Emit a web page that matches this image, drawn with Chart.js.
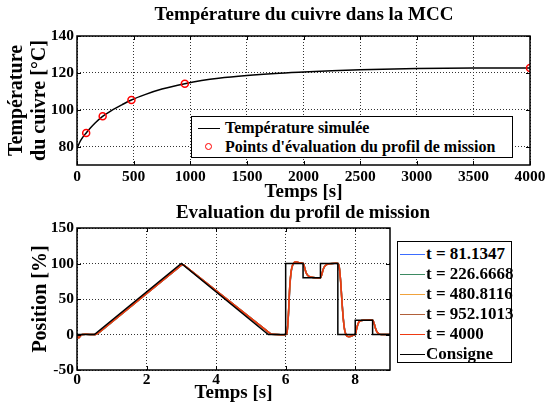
<!DOCTYPE html>
<html>
<head>
<meta charset="utf-8">
<script src="https://cdn.jsdelivr.net/npm/chart.js@4.4.1/dist/chart.umd.min.js"></script>
<style>
  body { margin: 0; background: #fff; width: 549px; height: 403px; position: relative; overflow: hidden;
         font-family: "Liberation Serif", "Times New Roman", serif; font-weight: bold; color: #000; }
  canvas { position: absolute; left: 0; }
  #tempChart { top: 0; }
  #posChart { top: 200px; }
  .legend { position: absolute; box-sizing: border-box; border: 1.5px solid #000; background: #fff; }
  .legend .row { position: absolute; left: 0; right: 0; height: 20px; white-space: nowrap; }
  .legend .sample { position: absolute; top: 50%; height: 0; border-top: 1.5px solid #000; }
  .legend .dot { position: absolute; top: 50%; width: 5px; height: 5px; margin-top: -4px; border: 1.5px solid #f00; border-radius: 50%; }
  .legend .txt { position: absolute; top: 50%; transform: translateY(-52%); line-height: 1; }
</style>
</head>
<body>
<canvas id="tempChart" width="549" height="212"></canvas>
<canvas id="posChart" width="549" height="210"></canvas>
<div class="legend" id="tempLegend" style="left:191px;top:116px;width:322px;height:42px;font-size:16px"></div>
<div class="legend" id="posLegend" style="left:397px;top:241px;width:115px;height:122px;font-size:17px"></div>

<script>
// ---- top chart data (copper temperature) ----
const tempTime = [0, 25, 50, 81, 120, 160, 226, 300, 400, 480, 600, 750, 952, 1100, 1250, 1500, 1750, 2000, 2250, 2500, 3000, 3500, 4000];
const tempSim  = [78.9, 82.5, 85.0, 87.4, 90.2, 92.8, 96.4, 99.4, 102.8, 105.3, 108.2, 111.2, 114.1, 115.8, 117.1, 118.6, 119.7, 120.5, 121.2, 121.7, 122.3, 122.6, 122.7];
const evalTime = [81.1347, 226.6668, 480.8116, 952.1013, 4000];
const evalTemp = [87.4, 96.4, 105.3, 114.1, 122.7];
const tempXTicks = [0, 500, 1000, 1500, 2000, 2500, 3000, 3500, 4000];
const tempYTicks = [80, 100, 120, 140];

// ---- bottom chart data (mission profile) ----
const consigneTime  = [0, 0.5, 3, 5.5, 6, 6, 6.5, 6.5, 7, 7, 7.5, 7.5, 8, 8, 8.5, 8.5, 9];
const consigneValue = [0, 0, 100, 0, 0, 100, 100, 80, 80, 100, 100, 0, 0, 20, 20, 0, 0];
const respTime = [0, 0.03, 0.06, 0.1, 0.15, 0.5, 0.55, 0.65, 3.0, 3.05, 3.1, 5.55, 5.6, 6.0, 6.04, 6.08, 6.12, 6.16, 6.2, 6.25, 6.3, 6.4, 6.5,
                  6.54, 6.58, 6.62, 6.68, 6.75, 6.85, 7.0, 7.04, 7.08, 7.12, 7.18, 7.25, 7.35, 7.5, 7.54, 7.58, 7.62, 7.66, 7.7, 7.75, 7.8,
                  7.88, 7.95, 8.0, 8.04, 8.08, 8.12, 8.18, 8.25, 8.5, 8.54, 8.58, 8.62, 8.68, 8.75, 9];
const resp81   = [0, -3.8, -4.3, -2, 0, 0, 0.3, 3.3, 97.4, 98.0, 96.7, 1.6, 0.2, 0, 2.6, 27, 67, 88, 97, 101.2, 102.1, 101, 100.2,
                  95.5, 88.5, 84.3, 81.7, 80.6, 80, 80, 84.5, 91.5, 95.6, 98.3, 99.5, 100, 100, 95.5, 76, 47, 22, 6, -1.2, -2.8,
                  -2.4, -0.8, 0, 7.5, 14.5, 18.2, 19.7, 20, 20, 16.3, 9.5, 4.3, 1.1, 0, 0];
const resp226  = [0, -3.9, -4.4, -2, 0, 0, 0.3, 3.4, 97.5, 98.1, 96.7, 1.6, 0.2, 0, 2.8, 28, 68, 89, 97.5, 101.3, 102.2, 101, 100.2,
                  95.3, 88.3, 84.2, 81.6, 80.6, 80, 80, 84.8, 91.7, 95.8, 98.4, 99.5, 100, 100, 95.3, 75.5, 46, 21, 5.5, -1.3, -2.9,
                  -2.4, -0.8, 0, 7.7, 14.7, 18.3, 19.8, 20, 20, 16.2, 9.3, 4.2, 1.0, 0, 0];
const resp480  = [0, -3.9, -4.4, -2, 0, 0, 0.3, 3.4, 97.5, 98.1, 96.8, 1.5, 0.2, 0, 2.9, 29, 69, 89.5, 97.8, 101.4, 102.2, 101, 100.2,
                  95.2, 88.2, 84.1, 81.6, 80.5, 80, 80, 84.9, 91.8, 95.9, 98.4, 99.6, 100, 100, 95.2, 75.2, 45.5, 20.5, 5.2, -1.4, -2.9,
                  -2.5, -0.8, 0, 7.8, 14.8, 18.4, 19.8, 20, 20, 16.1, 9.2, 4.1, 1.0, 0, 0];
const resp952  = [0, -4, -4.5, -2, 0, 0, 0.3, 3.5, 97.6, 98.2, 96.8, 1.5, 0.2, 0, 3, 29.5, 69.5, 90, 98, 101.5, 102.3, 101, 100.2,
                  95.1, 88.1, 84, 81.5, 80.5, 80, 80, 85, 91.9, 96, 98.5, 99.6, 100, 100, 95.1, 75.1, 45.2, 20.2, 5.1, -1.5, -3,
                  -2.5, -0.8, 0, 7.9, 14.9, 18.5, 19.8, 20, 20, 16, 9.1, 4, 1.0, 0, 0];
const resp4000 = [0, -4, -4.5, -2, 0, 0, 0.3, 3.5, 97.6, 98.2, 96.8, 1.5, 0.2, 0, 3, 30, 70, 90, 98, 101.5, 102.3, 101, 100.2,
                  95, 88, 84, 81.5, 80.5, 80, 80, 85, 92, 96, 98.5, 99.6, 100, 100, 95, 75, 45, 20, 5, -1.5, -3,
                  -2.5, -0.8, 0, 8, 15, 18.5, 19.8, 20, 20, 16, 9, 4, 1, 0, 0];
const posLabels = ['t = 81.1347', 't = 226.6668', 't = 480.8116', 't = 952.1013', 't = 4000', 'Consigne'];
const posColors = ['#3b6cff', '#3d8a62', '#f0a23c', '#b0603a', '#ee3a12', '#000000'];
const posXTicks = [0, 2, 4, 6, 8];
const posYTicks = [-50, 0, 50, 100, 150];

const serif = '"Liberation Serif", "Times New Roman", serif';
const tickFont = { family: serif, size: 15.5, weight: 'bold' };
const labelFont = { family: serif, size: 19, weight: 'bold' };

function zip(xs, ys) {
  return xs.map((x, i) => ({ x: x, y: ys[i] }));
}

// matlab style box round the axes, inward tick marks, and the title
const framePlugin = {
  id: 'frame',
  afterDatasetsDraw(chart, args, opts) {
    const { ctx, chartArea: a, scales } = chart;
    ctx.save();
    ctx.strokeStyle = '#000';
    ctx.lineWidth = 1;
    scales.x.ticks.forEach(t => {
      const px = Math.round(scales.x.getPixelForValue(t.value)) + 0.5;
      ctx.beginPath();
      ctx.moveTo(px, a.bottom); ctx.lineTo(px, a.bottom - 4);
      ctx.moveTo(px, a.top); ctx.lineTo(px, a.top + 4);
      ctx.stroke();
    });
    scales.y.ticks.forEach(t => {
      const py = Math.round(scales.y.getPixelForValue(t.value)) + 0.5;
      ctx.beginPath();
      ctx.moveTo(a.left, py); ctx.lineTo(a.left + 4, py);
      ctx.moveTo(a.right, py); ctx.lineTo(a.right - 4, py);
      ctx.stroke();
    });
    ctx.lineWidth = 1.5;
    ctx.strokeRect(a.left, a.top, a.right - a.left, a.bottom - a.top);

    ctx.fillStyle = '#000';
    ctx.font = 'bold 19px ' + serif;
    ctx.textAlign = 'center';
    ctx.textBaseline = 'middle';
    ctx.fillText(opts.text, opts.x, opts.y);
    ctx.restore();
  }
};

function axis(min, max, tickList, title, fit, tickPad) {
  return {
    type: 'linear', min: min, max: max,
    afterBuildTicks: s => { s.ticks = tickList.map(v => ({ value: v })); },
    afterFit: fit,
    grid: { color: '#333', lineWidth: 1, drawTicks: false },
    border: { display: false, dash: [1, 2] },
    ticks: { color: '#000', font: tickFont, padding: tickPad, maxRotation: 0, autoSkip: false, callback: v => String(v) },
    title: title
  };
}

// ---- top chart ----
new Chart(document.getElementById('tempChart'), {
  type: 'scatter',
  data: {
    datasets: [
      { label: "Points d'évaluation du profil de mission", data: zip(evalTime, evalTemp), showLine: false,
        pointRadius: 3.5, pointBorderWidth: 1.5, pointBorderColor: '#ff0000', pointBackgroundColor: 'rgba(0,0,0,0)', order: 0 },
      { label: 'Température simulée', data: zip(tempTime, tempSim), showLine: true, borderColor: '#000', borderWidth: 1.5,
        pointRadius: 0, cubicInterpolationMode: 'monotone', order: 1 }
    ]
  },
  options: {
    responsive: false, animation: false,
    layout: { padding: { left: 0, right: 19, top: 36, bottom: 0 } },
    plugins: {
      legend: { display: false }, tooltip: { enabled: false }, title: { display: false },
      frame: { text: 'Température du cuivre dans la MCC', x: 304, y: 15 }
    },
    scales: {
      x: axis(0, 4000, tempXTicks, { display: true, text: 'Temps [s]', color: '#000', font: labelFont, padding: { top: 0, bottom: 9 } },
              s => { s.height = 47; }, 3),
      y: axis(70, 140, tempYTicks, { display: true, text: ['Température', 'du cuivre [°C]'], color: '#000',
              font: { family: serif, size: 20, weight: 'bold', lineHeight: 1.15 }, padding: { top: 5, bottom: 0 } },
              s => { s.width = 77; }, 3)
    }
  },
  plugins: [framePlugin]
});

// ---- bottom chart ----
const respSeries = [resp81, resp226, resp480, resp952, resp4000];
const posDatasets = respSeries.map((r, i) => ({
  label: posLabels[i], data: zip(respTime, r), showLine: true, borderColor: posColors[i], borderWidth: 1.5,
  pointRadius: 0, tension: 0.3, order: 5 - i
}));
posDatasets.push({ label: posLabels[5], data: zip(consigneTime, consigneValue), showLine: true, borderColor: posColors[5],
  borderWidth: 1.5, pointRadius: 0, order: 0 });

new Chart(document.getElementById('posChart'), {
  type: 'scatter',
  data: { datasets: posDatasets },
  options: {
    responsive: false, animation: false,
    layout: { padding: { left: 0, right: 159, top: 28, bottom: 0 } },
    plugins: {
      legend: { display: false }, tooltip: { enabled: false }, title: { display: false },
      frame: { text: 'Evaluation du profil de mission', x: 303, y: 13 }
    },
    scales: {
      x: axis(0, 9, posXTicks, { display: true, text: 'Temps [s]', color: '#000', font: labelFont, padding: { top: 0, bottom: 6 } },
              s => { s.height = 40; }, 1),
      y: axis(-50, 150, posYTicks, { display: true, text: 'Position [%]', color: '#000',
              font: { family: serif, size: 20, weight: 'bold', lineHeight: 1.15 }, padding: { top: 29, bottom: 0 } },
              s => { s.width = 77; }, 3)
    }
  },
  plugins: [framePlugin]
});

// ---- legends ----
function legendRow(box, top, text, sampleLeft, sampleWidth, textLeft, color, marker) {
  const row = document.createElement('div');
  row.className = 'row';
  row.style.top = top + 'px';
  const s = document.createElement('div');
  if (marker) {
    s.className = 'dot';
    s.style.left = (sampleLeft + sampleWidth / 2 - 4) + 'px';
  } else {
    s.className = 'sample';
    s.style.left = sampleLeft + 'px';
    s.style.width = sampleWidth + 'px';
    s.style.borderTopColor = color;
  }
  const t = document.createElement('span');
  t.className = 'txt';
  t.style.left = textLeft + 'px';
  t.textContent = text;
  row.appendChild(s);
  row.appendChild(t);
  box.appendChild(row);
}

const tl = document.getElementById('tempLegend');
legendRow(tl, 1, 'Température simulée', 6, 22, 33, '#000', false);
legendRow(tl, 20, "Points d'évaluation du profil de mission", 6, 22, 33, '#f00', true);

const pl = document.getElementById('posLegend');
posLabels.forEach((lab, i) => {
  legendRow(pl, 2 + i * 20, lab, 2, 25, 28, posColors[i], false);
});
</script>
</body>
</html>
